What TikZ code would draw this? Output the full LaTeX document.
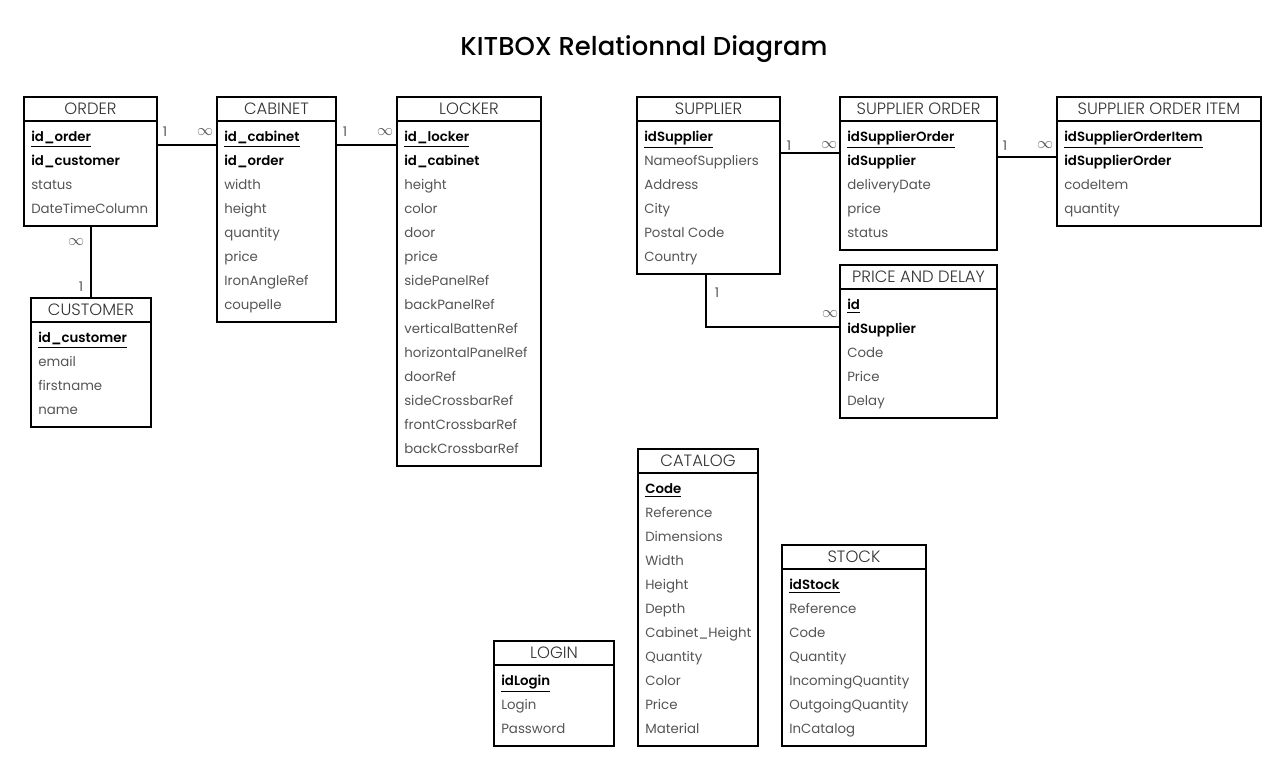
\documentclass[tikz,border=0pt]{standalone}
\usepackage{fontspec}
\setmainfont{Poppins}
\newfontfamily\lightfont{Poppins Light}
\newfontfamily\medfont{Poppins Medium}
\newfontfamily\semifont{Poppins SemiBold}
\usetikzlibrary{calc}
\definecolor{hdtext}{HTML}{333333}
\definecolor{fieldtext}{HTML}{555555}
\tikzset{
  tbox/.style={draw=black, line width=0.9pt, fill=white, inner sep=0pt, outer sep=0pt},
  thead/.style={font=\lightfont\fontsize{12.3}{14}\selectfont, text=hdtext, inner sep=0pt},
  rowbase/.style={inner sep=0pt, anchor=west, text height=7pt, text depth=2pt},
  rown/.style={rowbase, font=\fontsize{10}{12}\selectfont, text=fieldtext},
  rowb/.style={rowbase, font=\semifont\fontsize{10}{12}\selectfont, text=black},
  rowu/.style={rowbase, font=\semifont\fontsize{10}{12}\selectfont, text=black},
  rel/.style={draw=black, line width=0.8pt},
  card/.style={font=\fontsize{10}{12}\selectfont, text=fieldtext, inner sep=0pt}
}
\newcommand\etable[7]{%
  \node[tbox, minimum width=#4*0.75pt, minimum height={(33+24*#5)*0.75pt}, anchor=north west] (#1) at (#2,#3) {};
  \draw[line width=0.8pt] ($(#1.north west)+(0,24)$) -- ($(#1.north east)+(0,24)$);
  \node[thead] (#1-h) at ($(#1.north)+(0,12)$) {#6};
  \foreach \t/\s [count=\i] in {#7} {
    \node[row\t] (#1-\i) at ($(#1.north west)+(7,17.5+24*\i)$) {\if u\t\underline{\s}\else\s\fi};
  }%
}
\begin{document}
\begin{tikzpicture}[x=0.75pt,y=-0.75pt]
\useasboundingbox[fill=white] (0,0) rectangle (1286,772);
\node[font=\medfont\fontsize{19.4}{22}\selectfont, text=black, inner sep=0pt] (title) at (644,49) {KITBOX Relationnal Diagram};

\etable{order}{24}{97}{133}{4}{ORDER}{u/id\_order, b/id\_customer, n/status, n/DateTimeColumn}
\etable{customer}{31}{298}{120}{4}{CUSTOMER}{u/id\_customer, n/email, n/firstname, n/name}
\etable{cabinet}{217}{97}{119}{8}{CABINET}{u/id\_cabinet, b/id\_order, n/width, n/height, n/quantity, n/price, n/IronAngleRef, n/coupelle}
\etable{locker}{397}{97}{144}{14}{LOCKER}{u/id\_locker, b/id\_cabinet, n/height, n/color, n/door, n/price, n/sidePanelRef, n/backPanelRef, n/verticalBattenRef, n/horizontalPanelRef, n/doorRef, n/sideCrossbarRef, n/frontCrossbarRef, n/backCrossbarRef}
\etable{supplier}{637}{97}{143}{6}{SUPPLIER}{u/idSupplier, n/NameofSuppliers, n/Address, n/City, n/Postal Code, n/Country}
\etable{sorder}{840}{97}{157}{5}{SUPPLIER ORDER}{u/idSupplierOrder, b/idSupplier, n/deliveryDate, n/price, n/status}
\etable{soitem}{1057}{97}{204}{4}{SUPPLIER ORDER ITEM}{u/idSupplierOrderItem, b/idSupplierOrder, n/codeItem, n/quantity}
\etable{pdelay}{840}{265}{157}{5}{PRICE AND DELAY}{u/id, b/idSupplier, n/Code, n/Price, n/Delay}
\etable{catalog}{638}{449}{120}{11}{CATALOG}{u/Code, n/Reference, n/Dimensions, n/Width, n/Height, n/Depth, n/Cabinet\_Height, n/Quantity, n/Color, n/Price, n/Material}
\etable{stock}{782}{545}{144}{7}{STOCK}{u/idStock, n/Reference, n/Code, n/Quantity, n/IncomingQuantity, n/OutgoingQuantity, n/InCatalog}
\etable{login}{494}{641}{120}{3}{LOGIN}{u/idLogin, n/Login, n/Password}

% relations
\draw[rel] ($(order.north east)+(0,48)$) -- ($(cabinet.north west)+(0,48)$);
\node[card] (c1a) at (165,132) {1};
\node[card] (c1b) at (205,132) {\large$\infty$};
\draw[rel] ($(cabinet.north east)+(0,48)$) -- ($(locker.north west)+(0,48)$);
\node[card] (c2a) at (345,132) {1};
\node[card] (c2b) at (385,132) {\large$\infty$};
\draw[rel] (order.south -| customer.north) -- (customer.north);
\node[card] (c3a) at (76,242) {\large$\infty$};
\node[card] (c3b) at (81,287) {1};
\draw[rel] ($(supplier.north east)+(0,56)$) -- ($(sorder.north west)+(0,56)$);
\node[card] (c4a) at (789,146) {1};
\node[card] (c4b) at (829,145) {\large$\infty$};
\draw[rel] ($(sorder.north east)+(0,60)$) -- ($(soitem.north west)+(0,60)$);
\node[card] (c5a) at (1005,146) {1};
\node[card] (c5b) at (1045,145) {\large$\infty$};
\coordinate (bend) at ($(supplier.south west)+(69,53)$);
\draw[rel] ($(supplier.south west)+(69,0)$) -- (bend) -- (bend -| pdelay.west);
\node[card] (c6a) at (717,293) {1};
\node[card] (c6b) at (830,314) {\large$\infty$};
\end{tikzpicture}
\end{document}
